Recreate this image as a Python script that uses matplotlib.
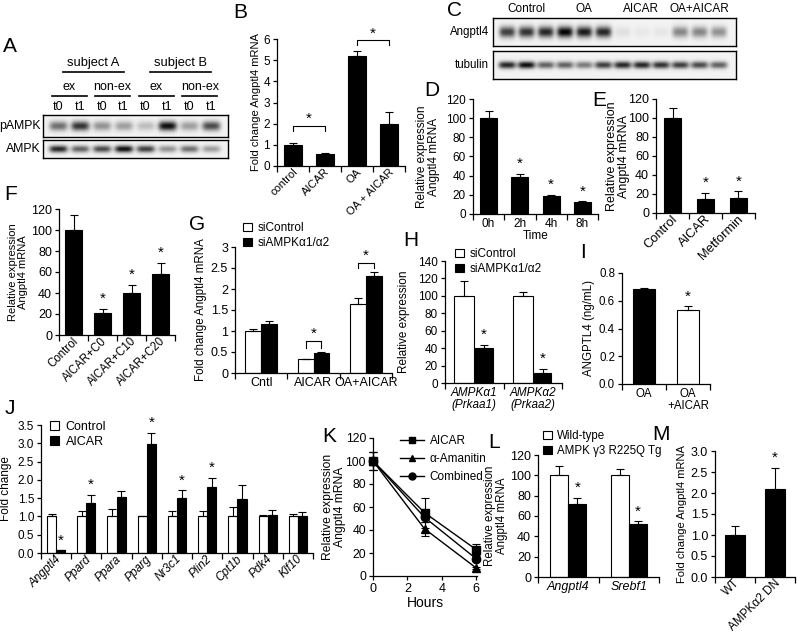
import matplotlib
matplotlib.use("Agg")
import matplotlib.pyplot as plt
import matplotlib.transforms as mtransforms
from matplotlib.patches import Patch
from matplotlib.lines import Line2D
from matplotlib.ticker import FuncFormatter, FormatStrFormatter
import numpy as np

plt.rcParams['font.family'] = ['Liberation Sans', 'DejaVu Sans']
plt.rcParams['font.size'] = 9
plt.rcParams['axes.linewidth'] = 0.9

W, H = 797, 639

# ---------------- data ----------------
# A: band intensities (0..1), lanes t0,t1 per condition
a_lanes = ["t0", "t1", "t0", "t1", "t0", "t1", "t0", "t1"]
a_pampk = [0.55, 0.8, 0.4, 0.35, 0.22, 0.95, 0.35, 0.7]
a_ampk = [0.85, 0.6, 0.7, 0.95, 0.75, 0.4, 0.55, 0.35]

b_labels = ["control", "AICAR", "OA", "OA + AICAR"]
b_vals = [1.0, 0.55, 5.2, 2.0]
b_err = [0.08, 0.08, 0.22, 0.57]

c_groups = ["Control", "OA", "AICAR", "OA+AICAR"]
c_angptl4 = [0.75, 0.8, 0.85, 1.0, 0.9, 0.85, 0.08, 0.05, 0.05, 0.45, 0.45, 0.4]
c_tubulin = [0.85, 0.95, 0.6, 0.6, 0.5, 0.75, 0.85, 0.85, 0.8, 0.75, 0.7, 0.6]

d_labels = ["0h", "2h", "4h", "8h"]
d_vals = [100, 39, 19, 12]
d_err = [8, 3, 1, 1.5]
d_sig = [False, True, True, True]

e_labels = ["Control", "AICAR", "Metformin"]
e_vals = [100, 15, 16]
e_err = [11, 6, 7]
e_sig = [False, True, True]

f_labels = ["Control", "AICAR+C0", "AICAR+C10", "AICAR+C20"]
f_vals = [100, 21, 40, 58]
f_err = [14, 4, 8, 11]
f_sig = [False, True, True, True]

g_labels = ["Cntl", "AICAR", "OA+AICAR"]
g_sicontrol = [1.0, 0.33, 1.65]
g_sicontrol_err = [0.05, 0.0, 0.13]
g_siampk = [1.17, 0.47, 2.3]
g_siampk_err = [0.08, 0.04, 0.1]

h_labels = ["AMPKα1\n(Prkaa1)", "AMPKα2\n(Prkaa2)"]
h_sicontrol = [100, 100]
h_sicontrol_err = [17, 5]
h_siampk = [40, 12]
h_siampk_err = [4, 4]

i_labels = ["OA", "OA\n+AICAR"]
i_vals = [0.685, 0.53]
i_err = [0.005, 0.03]

j_genes = ["Angptl4", "Ppard", "Ppara", "Pparg", "Nr3c1", "Plin2", "Cpt1b", "Pdk4", "Klf10"]
j_control = [1.0, 1.0, 1.0, 1.0, 1.0, 1.0, 1.0, 1.0, 1.0]
j_control_err = [0.08, 0.15, 0.2, 0.02, 0.15, 0.15, 0.27, 0.05, 0.07]
j_aicar = [0.07, 1.37, 1.53, 2.98, 1.5, 1.8, 1.47, 1.05, 1.02]
j_aicar_err = [0.01, 0.22, 0.17, 0.3, 0.22, 0.25, 0.4, 0.12, 0.1]
j_sig = [True, True, False, True, True, True, False, False, False]

k_hours = [0, 3, 6]
k_aicar = [100, 55, 23]
k_aicar_err = [8, 13, 5]
k_amanitin = [100, 41, 7]
k_amanitin_err = [8, 6, 1]
k_combined = [100, 51, 15]
k_combined_err = [8, 4, 2]

l_labels = ["Angptl4", "Srebf1"]
l_wt = [100, 100]
l_wt_err = [9, 6]
l_tg = [72, 52]
l_tg_err = [6, 3]

m_labels = ["WT", "AMPKα2 DN"]
m_vals = [1.0, 2.1]
m_err = [0.22, 0.5]

# ---------------- helpers ----------------
fig = plt.figure(figsize=(W / 100, H / 100), dpi=100)


def px_axes(x0, y0, x1, y1):
    return fig.add_axes([x0 / W, 1 - y1 / H, (x1 - x0) / W, (y1 - y0) / H])


def ftext(x, y, s, **kw):
    return fig.text(x / W, 1 - y / H, s, **kw)


def letter(x, y, s):
    ftext(x, y, s, fontsize=15, ha='center', va='center')


def chart(x0, y0, x1, y1, ymax, ystep, fs, fmt=None):
    ax = px_axes(x0, y0, x1, y1)
    ax.spines[['top', 'right']].set_visible(False)
    ax.set_ylim(0, ymax)
    ax.set_yticks(np.arange(0, ymax + ystep / 2, ystep))
    if fmt:
        ax.yaxis.set_major_formatter(FormatStrFormatter(fmt))
    else:
        ax.yaxis.set_major_formatter(FuncFormatter(lambda v, _: f"{v:g}"))
    ax.tick_params(axis='y', direction='out', length=3, width=0.9, pad=2, labelsize=fs)
    return ax


def categories(ax, labels, fs, rot=False, italic=False, pad=3):
    n = len(labels)
    ax.set_xlim(0, n)
    ax.set_xticks(np.arange(n) + 0.5)
    ax.set_xticklabels(labels, style='italic' if italic else 'normal', fontsize=fs)
    ax.set_xticks(np.arange(n + 1), minor=True)
    ax.tick_params(axis='x', which='major', length=0, pad=pad)
    ax.tick_params(axis='x', which='minor', length=4, width=0.9, direction='out')
    if rot:
        off = mtransforms.ScaledTranslation(3 / 100, 0, fig.dpi_scale_trans)
        for lab in ax.get_xticklabels():
            lab.set_rotation(45)
            lab.set_ha('right')
            lab.set_va('center')
            lab.set_rotation_mode('anchor')
            lab.set_transform(lab.get_transform() + off)


def ylab(ax, text, x_right, fs):
    ax.set_ylabel(text, fontsize=fs, linespacing=1.0)
    pos = ax.get_position()
    ax.yaxis.set_label_coords(x_right / W, pos.y0 + pos.height / 2, transform=fig.transFigure)


def bars(ax, xs, vals, errs, face, width):
    ax.bar(xs, vals, width, color=face, edgecolor='black', linewidth=0.8, zorder=2)
    ax.errorbar(xs, vals, yerr=[np.zeros(len(vals)), errs], fmt='none', ecolor='black',
                elinewidth=0.8, capsize=3, capthick=0.8, zorder=3)


def star(ax, x, y, dy=2):
    ax.annotate('*', (x, y), xytext=(0, dy), textcoords='offset points', ha='center',
                va='bottom', fontsize=11, annotation_clip=False)


def bracket(ax, xa, xb, top, leg):
    ax.plot([xa, xa, xb, xb], [top - leg, top, top, top - leg], color='black', lw=0.8,
            clip_on=False, zorder=4)
    star(ax, (xa + xb) / 2, top, dy=0)


def blot(x0, y0, x1, y1, intens, xl, hw, hh):
    ax = px_axes(x0, y0, x1, y1)
    X, Y = np.meshgrid(np.linspace(xl[0], xl[1], 400), np.linspace(0, 1, 60))
    img = np.full(X.shape, 0.05)
    for i, v in enumerate(intens):
        img += v * np.exp(-((X - i) / hw) ** 4) * np.exp(-((Y - 0.5) / hh) ** 2)
    ax.imshow(img, extent=[xl[0], xl[1], 0, 1], aspect='auto', cmap='gray_r', vmin=0, vmax=1.05,
              origin='lower', interpolation='bilinear')
    ax.set_xlim(xl)
    ax.set_xticks([])
    ax.set_yticks([])
    for s in ax.spines.values():
        s.set_linewidth(1.0)
    return ax


def legend(ax, handles, labels, x, y, fs, spacing=0.25, hl=0.75):
    ax.legend(handles, labels, loc='upper left', bbox_to_anchor=(x / W, 1 - y / H),
              bbox_transform=fig.transFigure, frameon=False, borderpad=0, borderaxespad=0,
              handlelength=hl, handleheight=0.75, handletextpad=0.5, labelspacing=spacing,
              fontsize=fs)


white = Patch(facecolor='white', edgecolor='black', linewidth=0.8)
black = Patch(facecolor='black', edgecolor='black', linewidth=0.8)

# ---------------- A ----------------
letter(10, 46, "A")
a_xl = (-0.7, 7.8)
ax_p = blot(43, 115, 228, 137, a_pampk, a_xl, 0.42, 0.22)
ax_a = blot(43, 140, 228, 158, a_ampk, a_xl, 0.42, 0.2)
ftext(41, 126, "pAMPK", ha='right', va='center', fontsize=8.8)
ftext(41, 149, "AMPK", ha='right', va='center', fontsize=8.8)
tr = mtransforms.blended_transform_factory(ax_p.transData, fig.transFigure)
for i, s in enumerate(a_lanes):
    ax_p.text(i, 1 - 107 / H, s, transform=tr, ha='center', va='center', fontsize=9)
for k, s in enumerate(["ex", "non-ex", "ex", "non-ex"]):
    i0 = 2 * k
    ax_p.text(i0 + 0.5, 1 - 87 / H, s, transform=tr, ha='center', va='center', fontsize=9)
    ax_p.add_line(Line2D([i0 - 0.3, i0 + 1.3], [1 - 96 / H] * 2, transform=tr, color='black',
                         lw=1.2, clip_on=False))
for k, s in enumerate(["subject A", "subject B"]):
    i0 = 4 * k
    ax_p.text(i0 + 1.6, 1 - 63 / H, s, transform=tr, ha='center', va='center', fontsize=9.3)
    ax_p.add_line(Line2D([i0 + 0.2, i0 + 3.0], [1 - 72 / H] * 2, transform=tr, color='black',
                         lw=1.2, clip_on=False))

# ---------------- B ----------------
fs = 8
letter(240, 12, "B")
ax = chart(277, 39, 405, 166, 6, 1, 8.5)
categories(ax, b_labels, fs, rot=True)
xs = np.arange(4) + 0.5
bars(ax, xs, b_vals, b_err, 'black', 0.55)
bracket(ax, xs[0], xs[1], 1.9, 0.25)
bracket(ax, xs[2], xs[3], 5.93, 0.22)
ylab(ax, "Fold change Angptl4 mRNA", 261, fs)

# ---------------- C ----------------
letter(455, 10, "C")
c_xl = (-0.73, 11.93)
ax_c1 = blot(493, 18, 736, 46, c_angptl4, c_xl, 0.42, 0.2)
ax_c2 = blot(493, 51, 736, 79, c_tubulin, c_xl, 0.45, 0.13)
ftext(489, 32, "Angptl4", ha='right', va='center', fontsize=8.3)
ftext(489, 65, "tubulin", ha='right', va='center', fontsize=8.3)
tr = mtransforms.blended_transform_factory(ax_c1.transData, fig.transFigure)
for k, s in enumerate(c_groups):
    ax_c1.text(3 * k + 1, 1 - 9 / H, s, transform=tr, ha='center', va='center', fontsize=8.5)

# ---------------- D ----------------
fs = 8.5
letter(432, 91, "D")
ax = chart(473, 99, 598, 214, 120, 20, fs)
categories(ax, d_labels, fs)
xs = np.arange(4) + 0.5
bars(ax, xs, d_vals, d_err, 'black', 0.55)
for x, v, e, s in zip(xs, d_vals, d_err, d_sig):
    if s:
        star(ax, x, v + e)
ax.set_xlabel("Time", fontsize=fs, labelpad=0)
ylab(ax, "Relative expression\nAngptl4 mRNA", 440, fs)

# ---------------- E ----------------
fs = 9.3
letter(599, 101, "E")
ax = chart(656, 99, 755, 213, 120, 20, 9)
categories(ax, e_labels, fs, rot=True)
xs = np.arange(3) + 0.5
bars(ax, xs, e_vals, e_err, 'black', 0.52)
for x, v, e, s in zip(xs, e_vals, e_err, e_sig):
    if s:
        star(ax, x, v + e)
ylab(ax, "Relative expression\nAngptl4 mRNA", 630, 9.0)

# ---------------- F ----------------
fs = 8.3
letter(11, 195, "F")
ax = chart(59, 209, 175, 335, 120, 20, 9)
categories(ax, f_labels, fs, rot=True)
xs = np.arange(4) + 0.5
bars(ax, xs, f_vals, f_err, 'black', 0.58)
for x, v, e, s in zip(xs, f_vals, f_err, f_sig):
    if s:
        star(ax, x, v + e)
ylab(ax, "Relative expression\nAngptl4 mRNA", 28, 8)

# ---------------- G ----------------
fs = 8.3
letter(197, 225, "G")
ax = chart(235, 247, 392, 373, 3, 0.5, 9)
categories(ax, g_labels, 9)
xs = np.arange(3) + 0.5
bars(ax, xs - 0.15, g_sicontrol, g_sicontrol_err, 'white', 0.3)
bars(ax, xs + 0.15, g_siampk, g_siampk_err, 'black', 0.3)
bracket(ax, xs[1] - 0.15, xs[1] + 0.15, 0.77, 0.17)
bracket(ax, xs[2] - 0.15, xs[2] + 0.15, 2.62, 0.12)
ylab(ax, "Fold change Angptl4 mRNA", 207, fs)
legend(ax, [white, black], ["siControl", "siAMPKα1/α2"], 243, 222, 8.5)

# ---------------- H ----------------
fs = 8.5
letter(411, 241, "H")
ax = chart(445, 261, 562, 383, 140, 20, fs)
categories(ax, h_labels, fs, italic=True)
for lab in ax.get_xticklabels():
    lab.set_linespacing(1.0)
xs = np.arange(2) + 0.5
bars(ax, xs - 0.17, h_sicontrol, h_sicontrol_err, 'white', 0.34)
bars(ax, xs + 0.17, h_siampk, h_siampk_err, 'black', 0.3)
for x, v, e in zip(xs + 0.17, h_siampk, h_siampk_err):
    star(ax, x, v + e)
ylab(ax, "Relative expression", 410, fs)
legend(ax, [white, black], ["siControl", "siAMPKα1/α2"], 455, 248, fs)

# ---------------- I ----------------
fs = 8.3
letter(583, 253, "I")
ax = chart(622, 273, 710, 384, 0.8, 0.2, fs, fmt='%.1f')
categories(ax, i_labels, fs)
for lab in ax.get_xticklabels():
    lab.set_linespacing(1.0)
xs = np.arange(2) + 0.5
bars(ax, xs[:1], i_vals[:1], i_err[:1], 'black', 0.5)
bars(ax, xs[1:], i_vals[1:], i_err[1:], 'white', 0.5)
star(ax, xs[1], i_vals[1] + i_err[1])
ylab(ax, "ANGPTL4 (ng/mL)", 595, fs)

# ---------------- J ----------------
fs = 8.5
letter(10, 409, "J")
ax = chart(41, 425, 313, 553, 3.5, 0.5, fs, fmt='%.1f')
categories(ax, j_genes, fs, rot=True, italic=True)
xs = np.arange(9) + 0.5
bars(ax, xs - 0.15, j_control, j_control_err, 'white', 0.3)
bars(ax, xs + 0.15, j_aicar, j_aicar_err, 'black', 0.3)
for x, v, e, s in zip(xs + 0.15, j_aicar, j_aicar_err, j_sig):
    if s:
        star(ax, x, v + e)
ylab(ax, "Fold change", 12, fs)
legend(ax, [white, black], ["Control", "AICAR"], 50, 421, 9)

# ---------------- K ----------------
fs = 9
letter(329, 437, "K")
ax = chart(373, 438, 477, 576, 120, 20, 8.7)
ax.set_xlim(0, 6.05)
ax.set_xticks([0, 2, 4, 6])
ax.tick_params(axis='x', direction='out', length=3, width=0.9, pad=2, labelsize=fs)
series = [(k_aicar, k_aicar_err, 's', "AICAR"),
          (k_amanitin, k_amanitin_err, '^', "α-Amanitin"),
          (k_combined, k_combined_err, 'o', "Combined")]
handles = []
for vals, errs, mk, name in series:
    ax.errorbar(k_hours, vals, yerr=errs, color='black', lw=1.0, marker=mk, ms=6,
                capsize=3, elinewidth=0.8, capthick=0.8, clip_on=False, zorder=3)
    handles.append(Line2D([], [], color='black', lw=1.0, marker=mk, ms=5))
ax.set_xlabel("Hours", fontsize=10, labelpad=1)
ylab(ax, "Relative expression\nAngptl4 mRNA", 346, 8.7)
legend(ax, handles, [s[3] for s in series], 400, 435, 8.5, spacing=0.5, hl=2.0)

# ---------------- L ----------------
fs = 8.3
letter(494, 442, "L")
ax = chart(538, 455, 659, 577, 120, 20, 9)
categories(ax, l_labels, 9, italic=True)
xs = np.arange(2) + 0.5
bars(ax, xs - 0.15, l_wt, l_wt_err, 'white', 0.3)
bars(ax, xs + 0.15, l_tg, l_tg_err, 'black', 0.3)
for x, v, e in zip(xs + 0.15, l_tg, l_tg_err):
    star(ax, x, v + e)
ylab(ax, "Relative expression\nAngptl4 mRNA", 508, fs)
legend(ax, [white, black], ["Wild-type", "AMPK γ3 R225Q Tg"], 543, 430, 8.3)

# ---------------- M ----------------
fs = 8
letter(661, 435, "M")
ax = chart(715, 451, 795, 577, 3.0, 0.5, 9, fmt='%.1f')
categories(ax, m_labels, 8.5, rot=True)
xs = np.arange(2) + 0.5
bars(ax, xs, m_vals, m_err, 'black', 0.5)
star(ax, xs[1], m_vals[1] + m_err[1])
ylab(ax, "Fold change Angptl4 mRNA", 687, fs)

fig.savefig("out.png", dpi=100, facecolor='white')
